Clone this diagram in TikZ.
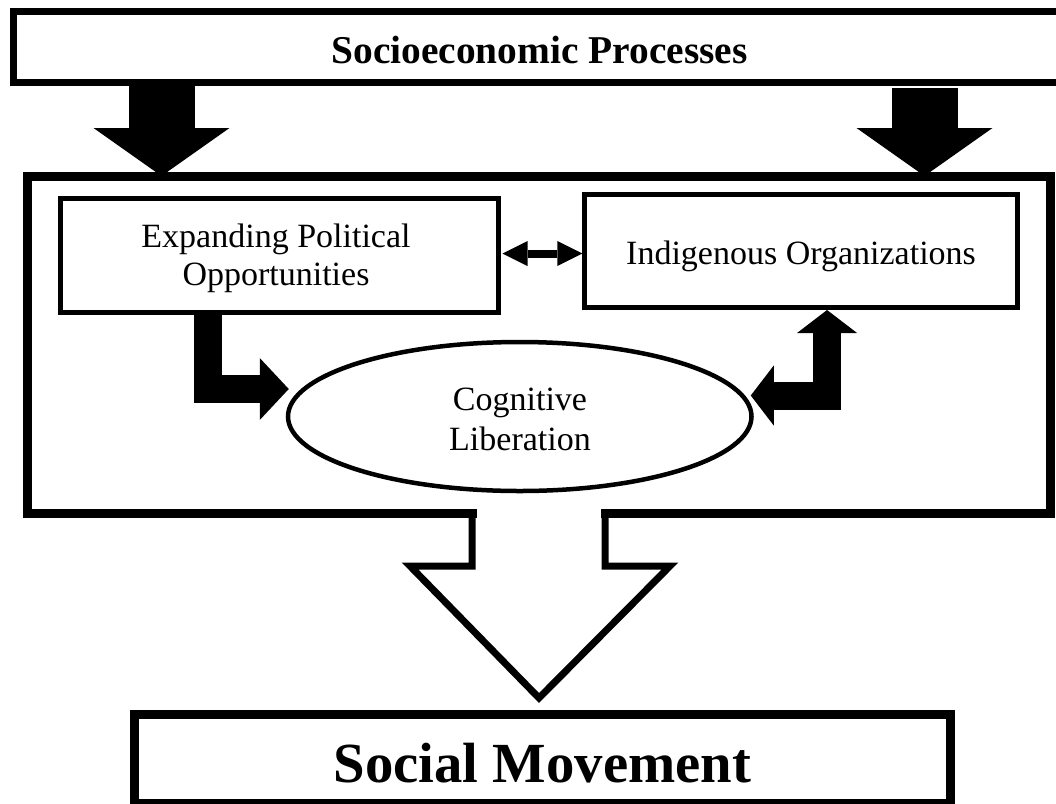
\documentclass[tikz,border=0pt]{standalone}
\usepackage{fontspec}
\setmainfont{Liberation Serif}
\usetikzlibrary{arrows.meta,shapes.geometric,calc}
\begin{document}
\begin{tikzpicture}[x=1pt,y=-1pt,
  reg/.style={font=\fontsize{34}{38}\selectfont},
  plainbox/.style={draw, rectangle, line width=5pt, inner sep=0pt, anchor=north west},
  blockdown/.style={line width=66pt, -{Triangle[length=48pt,width=136pt,line width=0pt]}},
  elbowL/.style={line width=28pt, line join=miter, -{Triangle[length=29pt,width=62pt,line width=0pt]}},
  elbowR/.style={line width=28pt, line join=miter, {Triangle[length=23pt,width=60pt,line width=0pt]}-{Triangle[length=23pt,width=60pt,line width=0pt]}},
  dbl/.style={line width=8pt, {Triangle[length=25pt,width=25pt,line width=0pt]}-{Triangle[length=25pt,width=25pt,line width=0pt]}}
]
\useasboundingbox (0,0) rectangle (1056,803);
\fill[white] (0,0) rectangle (1056,803);

% top box
\node[draw, rectangle, line width=7pt, inner sep=0pt, anchor=north west,
      minimum width=1052pt, minimum height=70.7pt, text height=32.7pt, text depth=0pt,
      font=\bfseries\fontsize{39.4}{45}\selectfont] (top) at (10,8.3) {Socioeconomic Processes};

% main box outline with open arrow
\coordinate (mnw) at (27,176);
\coordinate (mse) at (1050,513);
\draw[line width=9pt, line cap=rect, line join=miter] (472,513) -- (mnw |- mse) -- (mnw) -- (mse |- mnw) -- (mse) -- (605,513);
\draw[line width=7pt, line join=miter] (605,513) -- (605,566) -- (670,566) -- (539,698) -- (410,566) -- (472,566) -- (472,513);

% inner boxes
\node[plainbox, minimum width=438pt, minimum height=114pt] (epo) at (57.5,195.5) {};
\node[reg, anchor=base, align=center] (epotext) at (276,285) {Expanding Political\\Opportunities};

\node[plainbox, minimum width=432.3pt, minimum height=113pt, reg, text height=27pt, text depth=0pt] (io) at (582.4,192) {Indigenous Organizations};

\node[draw, ellipse, line width=4.5pt, inner sep=0pt, minimum width=463.5pt, minimum height=149pt] (cog) at (519.75,416.5) {};
\node[anchor=base, align=center, font=\fontsize{34}{40}\selectfont] (cogtext) at (520,450) {Cognitive\\Liberation};

% social movement
\node[draw, rectangle, line width=9pt, inner sep=0pt, anchor=north west,
      minimum width=816.3pt, minimum height=89pt, text height=48pt, text depth=0pt,
      font=\bfseries\fontsize{56.7}{62}\selectfont] (sm) at (129.7,709.5) {Social Movement};

% down arrows from top box
\coordinate (d1) at ($(top.south)+(-378,0)$);
\coordinate (d2) at ($(top.south)+(385,1.5)$);
\draw[blockdown] (d1) -- (d1 |- mnw);
\draw[blockdown] (d2) -- (d2 |- mnw);

% double arrow
\coordinate (dl) at ($(epo.east)+(2,-1.5)$);
\draw[dbl] (dl) -- (dl -| io.west);

% elbow arrows
\coordinate (l1) at ($(epo.south west)+(150,0)$);
\coordinate (l2) at ($(cog.west)+(3,-27.5)$);
\draw[elbowL] (l1) |- (l2);

\coordinate (r1) at ($(io.south)+(26,0)$);
\coordinate (r2) at ($(cog.east)+(-3,-21)$);
\draw[elbowR] (r2) -| (r1);
\end{tikzpicture}
\end{document}
